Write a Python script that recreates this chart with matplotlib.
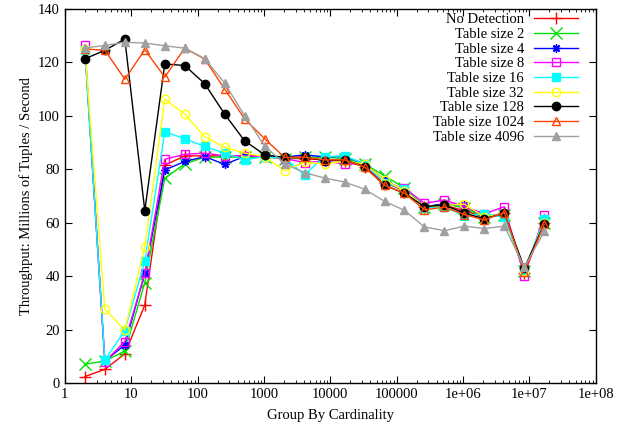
import matplotlib
matplotlib.use("Agg")
import matplotlib.pyplot as plt
from matplotlib.ticker import FixedLocator, FixedFormatter, LogLocator, NullFormatter

# Cardinalidad del group by (eje x)
cardinalidad = [2, 4, 8, 16, 32, 64, 128, 256, 512, 1024, 2048, 4096, 8192,
                16384, 32768, 65536, 131072, 262144, 524288, 1048576,
                2097152, 4194304, 8388608, 16777216]

# Throughput en millones de tuplas / segundo
no_detection = [2.4, 5.1, 10.9, 29.2, 81.5, 85, 85, 85, 85, 85, 84, 84, 83.5,
                83, 81, 75, 72, 66, 66.5, 64.5, 62, 63.5, 41, 60]
table_2 = [7, 8.2, 12, 37.5, 76.6, 82, 84.5, 84.5, 84.5, 84.5, 84, 84.5, 84.5,
           84, 82, 77.5, 73, 66, 67, 65.5, 62, 63, 42, 60]
table_4 = [125, 8.3, 14.2, 41, 79.7, 82.9, 84.7, 81.8, 84.8, 85, 84.5, 85.4,
           84.6, 84.8, 82, 76, 72, 66, 67, 66.5, 62, 63.5, 42, 60]
table_8 = [126.5, 8, 15.5, 41, 83.7, 85.6, 86, 85, 85, 84.7, 84, 82.5, 83, 82,
           82, 74.5, 73, 67.2, 68.5, 66, 63.3, 66, 40, 63]
table_16 = [124.5, 8.6, 19.6, 45.5, 94, 91.4, 88.5, 86, 83.5, 84.7, 84.1, 78,
            84.7, 85, 82, 75, 72.5, 65.5, 66, 62.5, 63.3, 62, 42, 61.4]
table_32 = [125, 27.7, 19.8, 51, 106.2, 100.6, 92.2, 88.2, 86, 84.7, 79.4,
            82.6, 82, 83, 82, 76, 72, 66, 66.5, 66.9, 62, 63.5, 42, 60]
table_128 = [121.3, 124.5, 128.7, 64.5, 119.4, 118.8, 112, 100.6, 90.6, 85.4,
             84.4, 84.5, 83.2, 83.5, 81, 74, 71, 66, 66.6, 63.5, 61.5, 63.5,
             43, 59.6]
table_1024 = [125, 124.5, 113.7, 124.7, 114.5, 125.3, 121.2, 110, 98.8, 91.4,
              84.4, 84.5, 83.5, 83.5, 80.8, 74, 71, 64.8, 65.8, 63, 61, 63.8,
              41.7, 59.4]
table_4096 = [125.4, 126.3, 127.5, 127.2, 126.2, 125.3, 121.4, 112.2, 100,
              88.7, 82, 78.7, 76.7, 75.2, 72.5, 68, 64.6, 58.4, 57, 58.7, 57.8,
              58.7, 43.3, 56.7]

etiquetas = ['No Detection', 'Table size 2', 'Table size 4', 'Table size 8',
             'Table size 16', 'Table size 32', 'Table size 128',
             'Table size 1024', 'Table size 4096']
series = [no_detection, table_2, table_4, table_8, table_16, table_32,
          table_128, table_1024, table_4096]

# Estilo tipo gnuplot
colores = ['#ff0000', '#00e000', '#0000ff', '#ff00ff', '#00ffff', '#ffff00',
           '#000000', '#ff4500', '#a0a0a0']
marcadores = ['+', 'x', (8, 2, 0), 's', 's', 'o', 'o', '^', '^']
rellenos = [True, True, True, False, True, False, True, False, True]

x_ticks = [1, 10, 100, 1000, 10000, 100000, 1e6, 1e7, 1e8]
x_tick_labels = ['1', '10', '100', '1000', '10000', '100000', '1e+06',
                 '1e+07', '1e+08']
y_ticks = [0, 20, 40, 60, 80, 100, 120, 140]

plt.rcParams['font.family'] = ['Liberation Serif', 'DejaVu Serif']
plt.rcParams['font.size'] = 10.5

fig = plt.figure(figsize=(6.18, 4.33), dpi=100)
ax = fig.add_axes([0.105, 0.1155, 0.859, 0.864])

for valores, etiqueta, color, marca, relleno in zip(series, etiquetas, colores,
                                                     marcadores, rellenos):
    ax.plot(cardinalidad, valores, color=color, linewidth=1, marker=marca,
            markersize=8 if marca in ('+', 'x') else 6,
            markerfacecolor=color if relleno else 'none',
            markeredgecolor=color, markeredgewidth=1, label=etiqueta)

ax.set_xscale('log')
ax.set_xlim(1, 1e8)
ax.set_ylim(0, 140)
ax.xaxis.set_major_locator(FixedLocator(x_ticks))
ax.xaxis.set_major_formatter(FixedFormatter(x_tick_labels))
ax.xaxis.set_minor_locator(LogLocator(base=10, subs=(2, 3, 4, 5, 6, 7, 8, 9),
                                      numticks=20))
ax.xaxis.set_minor_formatter(NullFormatter())
ax.set_yticks(y_ticks)

ax.tick_params(which='both', direction='in', top=True, right=True,
               labelsize=10.5)
ax.tick_params(which='major', length=5, width=0.8)
ax.tick_params(which='minor', length=2.5, width=0.6)
for spine in ax.spines.values():
    spine.set_linewidth(1)

ax.set_xlabel('Group By Cardinality', labelpad=6)
ax.set_ylabel('Throughput: Millions of Tuples / Second', labelpad=4)

ax.legend(loc='upper right', bbox_to_anchor=(0.983, 1.012), frameon=False,
          markerfirst=False, handlelength=3.0, handletextpad=0.7,
          labelspacing=0.1, borderaxespad=0.2, fontsize=10.5)

plt.savefig('out.png', dpi=100)
